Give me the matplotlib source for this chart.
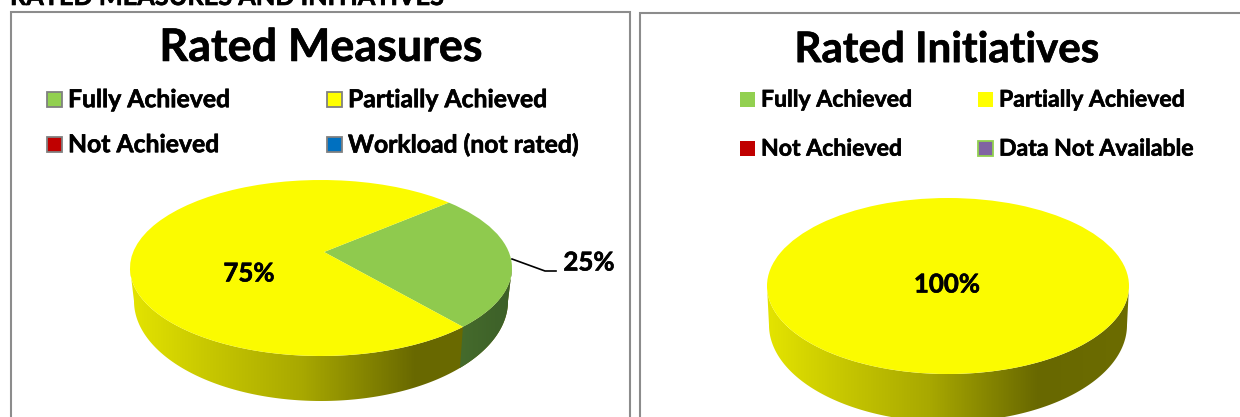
import numpy as np
import matplotlib
matplotlib.use("Agg")
import matplotlib.pyplot as plt
import matplotlib.patheffects as pe
from matplotlib.colors import LinearSegmentedColormap
from matplotlib.patches import PathPatch, Polygon, Rectangle
from matplotlib.path import Path

plt.rcParams['font.family'] = ['Lato', 'DejaVu Sans']
plt.rcParams['text.hinting'] = 'none'

W, H = 1240, 417

measure_labels = ["Fully Achieved", "Partially Achieved", "Not Achieved", "Workload (not rated)"]
measure_swatches = ["#92d050", "#ffff00", "#c00000", "#0070c0"]
measure_values = [25, 75]
measure_pct = ["25%", "75%"]

initiative_labels = ["Fully Achieved", "Partially Achieved", "Not Achieved", "Data Not Available"]
initiative_swatches = ["#92d050", "#ffff00", "#c00000", "#8064a2"]
initiative_values = [100]
initiative_pct = ["100%"]

yellow_side = LinearSegmentedColormap.from_list(
    "ys", [(0, "#e4e400"), (0.2, "#c8c800"), (0.45, "#a8a800"), (0.75, "#686800"), (1, "#6c6c00")])
green_side = LinearSegmentedColormap.from_list("gs", ["#456b2c", "#3c5f28"])
heavy = [pe.withStroke(linewidth=0.45, foreground="black")]

fig = plt.figure(figsize=(W / 100, H / 100), dpi=100)
bg = fig.add_axes([0, 0, 1, 1])
bg.set_xlim(0, W)
bg.set_ylim(H, 0)
bg.axis("off")


def label(ax, x, y, s, fs, ha="center", va="center"):
    ax.text(x, y, s, fontsize=fs, fontweight="bold", ha=ha, va=va, color="black", path_effects=heavy)


def pie3d(values, colors, cx, cy, rx, ry, bx, by, brx, bry, apex, start):
    ax = fig.add_axes([0, 0, 1, 1], facecolor="none", zorder=2)
    ax.set_xlim(0, W)
    ax.set_ylim(H, 0)
    ax.axis("off")

    t = np.linspace(np.pi, 2 * np.pi, 200)
    outline = np.c_[np.r_[bx + brx * np.cos(t), cx + rx * np.cos(t)[::-1]],
                    np.r_[by - bry * np.sin(t), cy - ry * np.sin(t)[::-1]]]
    side = Polygon(outline, closed=True, fc="none", ec="none", transform=ax.transData)
    ax.add_patch(side)
    grad = np.linspace(0, 1, 256).reshape(1, -1)
    im = ax.imshow(grad, cmap=yellow_side, aspect="auto", zorder=1,
                   extent=[cx - rx, cx + rx, H, 0])
    im.set_clip_path(side)

    # slices come from the values, squashed into the ellipse of the top face
    pie_ax = fig.add_axes([(cx - rx) / W, 1 - (cy + ry) / H, 2 * rx / W, 2 * ry / H],
                          facecolor="none", zorder=3)
    wedges, _ = pie_ax.pie(values, colors=colors, startangle=start, counterclock=False, radius=1)
    pie_ax.set_xlim(-1, 1)
    pie_ax.set_ylim(-1, 1)
    pie_ax.set_aspect("auto")
    pie_ax.axis("off")

    if len(values) > 1:
        for w in wedges:
            p = w.get_path()
            v = p.vertices.copy()
            near = np.hypot(v[:, 0], v[:, 1]) < 1e-6
            v[near] = [(apex[0] - cx) / rx, (cy - apex[1]) / ry]
            w.set_visible(False)
            pie_ax.add_patch(PathPatch(Path(v, p.codes), fc=w.get_facecolor(), ec="none",
                                       clip_on=False))
        # dark side of the first slice
        a1 = np.radians(start - values[0] / sum(values) * 360)
        tt = np.linspace(a1, 0, 60)
        pts = np.c_[np.r_[bx + brx * np.cos(tt), cx + rx * np.cos(tt)[::-1]],
                    np.r_[by - bry * np.sin(tt), cy - ry * np.sin(tt)[::-1]]]
        gs = Polygon(pts, closed=True, fc="none", ec="none", transform=ax.transData)
        ax.add_patch(gs)
        im2 = ax.imshow(grad, cmap=green_side, aspect="auto", zorder=2,
                        extent=[pts[:, 0].min(), pts[:, 0].max(), H, 0])
        im2.set_clip_path(gs)
    ax.set_xlim(0, W)
    ax.set_ylim(H, 0)
    return ax


def legend(labels, swatches, xs, ys, box, edges, fs):
    for i, (lab, col) in enumerate(zip(labels, swatches)):
        x = xs[i % 2]
        y = ys[i // 2]
        bg.add_patch(Rectangle((x, y - box / 2), box, box, fc=col, ec=edges[i], lw=1.3))
        label(bg, x + box + 6, y + 1, lab, fs, ha="left")


# frames
bg.add_patch(Rectangle((11, 12), 619, 420, fc="white", ec="#8c8c8c", lw=1.5))
bg.add_patch(Rectangle((640, 13), 620, 420, fc="white", ec="#8c8c8c", lw=1.5))
label(bg, 10, 5, "RATED MEASURES AND INITIATIVES", 18.2, ha="left", va="baseline")

label(bg, 321, 48, "Rated Measures", 32.3)
label(bg, 947, 50, "Rated Initiatives", 30.3)

legend(measure_labels, measure_swatches, [47, 327], [99, 144], 15, ["#808080"] * 4, 17.8)
legend(initiative_labels, initiative_swatches, [740, 978], [99, 148], 15,
       ["none", "none", "none", "#92d050"], 16.6)

pie3d(measure_values, ["#8fca4e", "#fbfb00"], 321, 268, 191, 88, 321, 301, 187, 100, (324, 252), 48)
pie3d(initiative_values, ["#fbfb00"], 948, 286, 181, 88, 948, 325, 179, 97, (948, 286), 90)

top = fig.add_axes([0, 0, 1, 1], facecolor="none", zorder=5)
top.set_xlim(0, W)
top.set_ylim(H, 0)
top.axis("off")
label(top, 249, 274, measure_pct[1], 18.6)
label(top, 589, 263, measure_pct[0], 18.6)
top.plot([512, 545, 556], [259, 271, 271], color="black", lw=1.2)
label(top, 947, 285, initiative_pct[0], 18.6)

fig.savefig("out.png", dpi=100)
